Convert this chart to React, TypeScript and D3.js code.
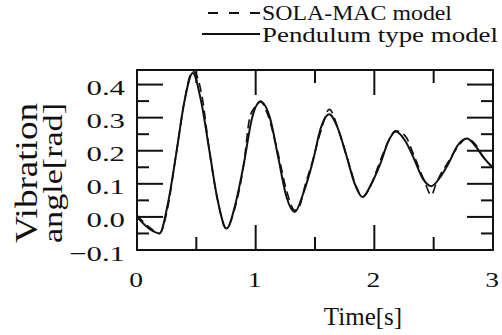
import React from "react";
import * as d3 from "d3";

// Pendulum type model (solid)
const pendT = [0, 0.1, 0.19, 0.26, 0.33, 0.4, 0.47, 0.54, 0.61, 0.68, 0.755, 0.83, 0.9, 0.97, 1.04, 1.12, 1.19, 1.26, 1.33, 1.4, 1.48, 1.55, 1.62, 1.69, 1.765, 1.835, 1.9, 1.975, 2.05, 2.12, 2.18, 2.26, 2.335, 2.41, 2.48, 2.555, 2.63, 2.7, 2.78, 2.85, 2.92, 3.0];
const pendV = [0.0, -0.035, -0.05, 0.04, 0.19, 0.35, 0.435, 0.35, 0.2, 0.05, -0.035, 0.04, 0.16, 0.3, 0.348, 0.3, 0.18, 0.06, 0.015, 0.07, 0.165, 0.27, 0.31, 0.27, 0.185, 0.1, 0.06, 0.1, 0.16, 0.23, 0.258, 0.23, 0.175, 0.115, 0.093, 0.12, 0.165, 0.215, 0.237, 0.215, 0.18, 0.148];

// SOLA-MAC model (dashed)
const solaT = [0, 0.1, 0.19, 0.26, 0.33, 0.4, 0.45, 0.47, 0.5, 0.55, 0.61, 0.68, 0.75, 0.82, 0.9, 0.95, 1.0, 1.04, 1.1, 1.19, 1.26, 1.33, 1.36, 1.42, 1.48, 1.55, 1.62, 1.7, 1.77, 1.85, 1.9, 1.95, 2.05, 2.12, 2.18, 2.26, 2.34, 2.42, 2.48, 2.52, 2.56, 2.63, 2.7, 2.78, 2.85, 2.92, 2.97, 3.0];
const solaV = [0.005, -0.03, -0.05, 0.03, 0.19, 0.35, 0.43, 0.44, 0.43, 0.36, 0.2, 0.05, -0.035, 0.02, 0.16, 0.3, 0.335, 0.35, 0.31, 0.19, 0.08, 0.02, 0.025, 0.1, 0.17, 0.26, 0.325, 0.26, 0.18, 0.09, 0.06, 0.08, 0.17, 0.23, 0.26, 0.245, 0.18, 0.11, 0.066, 0.1, 0.13, 0.17, 0.21, 0.237, 0.22, 0.18, 0.16, 0.15];

const xMajor = [1, 2];
const xMinor = [0.5, 1.5, 2.5];
const xLabels = [0, 1, 2, 3];
const yMajor = [0, 0.1, 0.2, 0.3, 0.4];
const yMinor = [-0.05, 0.05, 0.15, 0.25, 0.35];
const yLabels = [-0.1, 0, 0.1, 0.2, 0.3, 0.4];
const legendLabels = ["SOLA-MAC model", "Pendulum type model"];

const W = 502, H = 335;
const L = 137, R = 493, T = 70, B = 250;

export default function App() {
  const x = d3.scaleLinear().domain([0, 3]).range([L, R]);
  const y = d3.scaleLinear().domain([-0.1, 0.444]).range([B, T]);
  const line = d3
    .line<[number, number]>()
    .x((d) => x(d[0]))
    .y((d) => y(d[1]))
    .curve(d3.curveMonotoneX);
  const pend = line(pendT.map((t, i) => [t, pendV[i]] as [number, number])) || "";
  const sola = line(solaT.map((t, i) => [t, solaV[i]] as [number, number])) || "";
  const font = "'Liberation Serif', 'Times New Roman', serif";
  const ink = "#111";
  return (
    <svg width={W} height={H} style={{ position: "absolute", left: 0, top: 0, background: "#fff" }} fontFamily={font}>
      <rect x={0} y={0} width={W} height={H} fill="#fff" />
      {/* legend */}
      <line x1={208} x2={260} y1={13} y2={13} stroke={ink} strokeWidth={1.8} strokeDasharray="10,11" />
      <text x={262} y={20} fontSize={21} textLength={190} lengthAdjust="spacingAndGlyphs" fill={ink}>{legendLabels[0]}</text>
      <line x1={202} x2={260} y1={34} y2={34} stroke={ink} strokeWidth={1.8} />
      <text x={262} y={42} fontSize={21} textLength={236} lengthAdjust="spacingAndGlyphs" fill={ink}>{legendLabels[1]}</text>

      {/* curves */}
      <path d={pend} fill="none" stroke={ink} strokeWidth={2} />
      <path d={sola} fill="none" stroke={ink} strokeWidth={1.6} strokeDasharray="9,5" />

      {/* frame */}
      <rect x={L} y={T} width={R - L} height={B - T} fill="none" stroke={ink} strokeWidth={2} />

      {/* x ticks */}
      {xMajor.map((t) => (
        <g key={"xM" + t}>
          <line x1={x(t)} x2={x(t)} y1={B} y2={B - 25} stroke={ink} strokeWidth={2} />
          <line x1={x(t)} x2={x(t)} y1={T} y2={T + 25} stroke={ink} strokeWidth={2} />
        </g>
      ))}
      {xMinor.map((t) => (
        <g key={"xm" + t}>
          <line x1={x(t)} x2={x(t)} y1={B} y2={B - 13} stroke={ink} strokeWidth={2} />
          <line x1={x(t)} x2={x(t)} y1={T} y2={T + 13} stroke={ink} strokeWidth={2} />
        </g>
      ))}
      {/* y ticks */}
      {yMajor.map((v) => (
        <g key={"yM" + v}>
          <line x1={L} x2={L + 26} y1={y(v)} y2={y(v)} stroke={ink} strokeWidth={2} />
          <line x1={R} x2={R - 26} y1={y(v)} y2={y(v)} stroke={ink} strokeWidth={2} />
        </g>
      ))}
      {yMinor.map((v) => (
        <g key={"ym" + v}>
          <line x1={L} x2={L + 12} y1={y(v)} y2={y(v)} stroke={ink} strokeWidth={2} />
          <line x1={R} x2={R - 12} y1={y(v)} y2={y(v)} stroke={ink} strokeWidth={2} />
        </g>
      ))}

      {/* tick labels */}
      {xLabels.map((t) => (
        <text key={"xl" + t} transform={`translate(${x(t) - 1},287) scale(1.25,1)`} fontSize={22} textAnchor="middle" fill={ink}>
          {String(t)}
        </text>
      ))}
      {yLabels.map((v) => (
        <text key={"yl" + v} transform={`translate(125,${y(v) + 10.5}) scale(1.4,1)`} fontSize={22} textAnchor="end" fill={ink}>
          {d3.format(".1f")(v)}
        </text>
      ))}

      {/* axis titles */}
      <text x={363} y={325} fontSize={25} textAnchor="middle" fill={ink}>Time[s]</text>
      <text transform="translate(37,173) rotate(-90)" fontSize={31} textAnchor="middle" textLength={140} lengthAdjust="spacingAndGlyphs" fill={ink}>Vibration</text>
      <text transform="translate(62,173) rotate(-90)" fontSize={27} textAnchor="middle" textLength={140} lengthAdjust="spacingAndGlyphs" fill={ink}>angle[rad]</text>
    </svg>
  );
}
